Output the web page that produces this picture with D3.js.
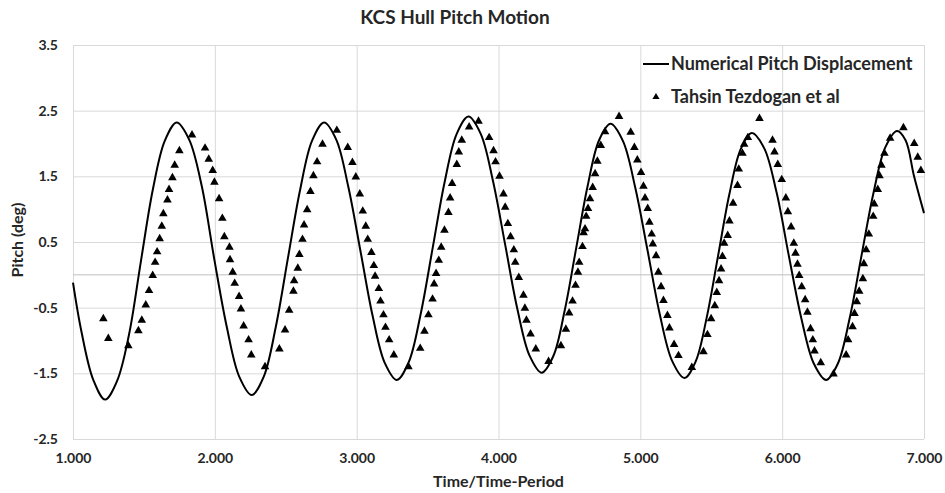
<!DOCTYPE html>
<html>
<head>
<meta charset="utf-8">
<script src="https://cdn.jsdelivr.net/npm/d3@7"></script>
<style>
  body { margin: 0; background: #fff; }
  text { font-family: Lato, "Open Sans", sans-serif; font-weight: bold; fill: #262626; }
</style>
</head>
<body>
<div id="chart"></div>
<script>
// tick values / labels
const xTicks = [1, 2, 3, 4, 5, 6, 7];
const yTicks = [-2.5, -1.5, -0.5, 0.5, 1.5, 2.5, 3.5];
const yTickLabels = ["-2.5", "-1.5", "-0.5", "0.5", "1.5", "2.5", "3.5"];

// Numerical pitch displacement
const numTime = [1.000, 1.059, 1.143, 1.226,
  1.310, 1.394, 1.479, 1.563, 1.647, 1.731,
  1.819, 1.907, 1.996, 2.084, 2.172, 2.260,
  2.345, 2.430, 2.515, 2.600, 2.685, 2.770,
  2.856, 2.941, 3.027, 3.112, 3.198, 3.283,
  3.367, 3.451, 3.536, 3.620, 3.704, 3.788,
  3.874, 3.960, 4.047, 4.133, 4.219, 4.305,
  4.386, 4.467, 4.548, 4.628, 4.709, 4.790,
  4.877, 4.964, 5.051, 5.137, 5.224, 5.311,
  5.390, 5.469, 5.549, 5.628, 5.707, 5.786,
  5.873, 5.960, 6.048, 6.135, 6.223, 6.310,
  6.393, 6.477, 6.560, 6.643, 6.727, 6.810,
  6.870, 6.930, 7.000];
const numPitch = [-0.12, -0.86, -1.60, -1.90,
  -1.62, -0.92, 0.21, 1.30, 2.04, 2.32,
  2.06, 1.36, 0.24, -0.79, -1.55, -1.83,
  -1.55, -0.79, 0.25, 1.28, 2.04, 2.32,
  2.06, 1.34, 0.36, -0.62, -1.34, -1.60,
  -1.33, -0.60, 0.41, 1.41, 2.14, 2.41,
  2.15, 1.44, 0.46, -0.52, -1.23, -1.49,
  -1.24, -0.54, 0.41, 1.35, 2.05, 2.30,
  2.04, 1.33, 0.37, -0.60, -1.31, -1.57,
  -1.32, -0.64, 0.30, 1.23, 1.91, 2.16,
  1.93, 1.26, 0.28, -0.66, -1.35, -1.60,
  -1.35, -0.65, 0.30, 1.24, 1.94, 2.19,
  2.05, 1.50, 0.94];

// Tahsin Tezdogan et al (markers)
const refTime = [1.214, 1.249, 1.390, 1.461, 1.485, 1.513, 1.536, 1.562, 1.579, 1.593, 1.611, 1.626, 1.637, 1.666, 1.677,
  1.701, 1.717, 1.750, 1.839, 1.931, 1.957, 1.985, 1.997, 2.030, 2.053, 2.067, 2.103, 2.107, 2.126, 2.140, 2.171, 2.184,
  2.203, 2.238, 2.257, 2.354, 2.455, 2.495, 2.524, 2.554, 2.559, 2.585, 2.596, 2.618, 2.629, 2.651, 2.674, 2.695, 2.721,
  2.759, 2.860, 2.937, 2.970, 2.994, 3.022, 3.043, 3.064, 3.078, 3.104, 3.121, 3.130, 3.156, 3.168, 3.189, 3.203, 3.229,
  3.262, 3.365, 3.448, 3.478, 3.506, 3.535, 3.546, 3.560, 3.579, 3.596, 3.619, 3.647, 3.659, 3.673, 3.706, 3.720, 3.741,
  3.793, 3.859, 3.934, 3.965, 3.979, 4.007, 4.035, 4.047, 4.066, 4.085, 4.108, 4.118, 4.143, 4.176, 4.186, 4.197, 4.226,
  4.263, 4.353, 4.440, 4.475, 4.498, 4.522, 4.543, 4.560, 4.569, 4.592, 4.600, 4.610, 4.618, 4.631, 4.645, 4.664, 4.681,
  4.697, 4.721, 4.751, 4.850, 4.932, 4.958, 4.979, 5.005, 5.022, 5.033, 5.052, 5.064, 5.080, 5.088, 5.111, 5.127, 5.146,
  5.163, 5.191, 5.205, 5.238, 5.269, 5.363, 5.445, 5.473, 5.499, 5.525, 5.539, 5.555, 5.569, 5.579, 5.591, 5.616, 5.628,
  5.654, 5.685, 5.694, 5.720, 5.732, 5.758, 5.840, 5.932, 5.946, 5.969, 5.997, 6.026, 6.040, 6.063, 6.082, 6.094, 6.108,
  6.120, 6.138, 6.162, 6.178, 6.200, 6.216, 6.228, 6.272, 6.362, 6.451, 6.465, 6.496, 6.510, 6.526, 6.543, 6.569, 6.576,
  6.592, 6.611, 6.642, 6.649, 6.674, 6.686, 6.700, 6.721, 6.761, 6.855, 6.931, 6.956, 6.978];
const refPitch = [-0.67, -0.97, -1.08, -0.85, -0.69, -0.46, -0.24, -0.01, 0.19, 0.35, 0.55, 0.74, 0.93, 1.14, 1.30,
  1.48, 1.67, 1.89, 2.13, 1.93, 1.76, 1.59, 1.41, 1.16, 0.86, 0.58, 0.42, 0.23, 0.04, -0.13, -0.33, -0.52,
  -0.78, -0.99, -1.22, -1.40, -1.13, -0.84, -0.54, -0.25, -0.09, 0.10, 0.31, 0.54, 0.76, 0.99, 1.27, 1.51, 1.72,
  1.99, 2.20, 1.94, 1.71, 1.49, 1.23, 0.97, 0.74, 0.54, 0.34, 0.14, -0.02, -0.21, -0.40, -0.61, -0.80, -0.99,
  -1.22, -1.40, -1.12, -0.86, -0.61, -0.37, -0.14, 0.02, 0.22, 0.42, 0.68, 0.95, 1.17, 1.39, 1.68, 1.87, 2.05,
  2.25, 2.34, 2.09, 1.89, 1.72, 1.50, 1.23, 1.03, 0.78, 0.58, 0.38, 0.19, -0.04, -0.31, -0.51, -0.69, -0.90,
  -1.13, -1.32, -1.08, -0.83, -0.58, -0.40, -0.16, 0.04, 0.19, 0.43, 0.64, 0.70, 0.89, 1.01, 1.16, 1.33, 1.54,
  1.73, 1.97, 2.18, 2.41, 2.17, 1.94, 1.75, 1.56, 1.35, 1.17, 1.01, 0.80, 0.62, 0.47, 0.29, 0.04, -0.18,
  -0.39, -0.62, -0.81, -1.06, -1.23, -1.41, -1.17, -0.91, -0.67, -0.47, -0.27, -0.09, 0.09, 0.28, 0.48, 0.60, 0.82,
  1.09, 1.36, 1.61, 1.85, 1.99, 2.09, 2.38, 2.05, 1.87, 1.68, 1.45, 1.17, 0.96, 0.73, 0.48, 0.33, 0.16,
  -0.01, -0.18, -0.38, -0.57, -0.82, -0.99, -1.16, -1.34, -1.51, -1.22, -0.99, -0.79, -0.59, -0.41, -0.25, -0.06, 0.17,
  0.38, 0.62, 0.89, 1.08, 1.30, 1.51, 1.67, 1.85, 2.08, 2.24, 2.00, 1.79, 1.59];

const width = 945, height = 493;
const margin = {top: 45, right: 21, bottom: 54, left: 73};

const svg = d3.select("#chart")
  .append("svg")
  .attr("width", width)
  .attr("height", height);

const x = d3.scaleLinear()
  .domain([1, 7])
  .range([margin.left, width - margin.right]);

const y = d3.scaleLinear()
  .domain([-2.5, 3.5])
  .range([height - margin.bottom, margin.top]);

// gridlines
svg.append("g")
  .attr("transform", `translate(${margin.left},0)`)
  .call(d3.axisLeft(y).tickValues(yTicks).tickSize(-(x.range()[1] - x.range()[0])).tickFormat(""))
  .call(g => g.select(".domain").remove())
  .call(g => g.selectAll("line").attr("stroke", "#d9d9d9").attr("stroke-width", 1));

svg.append("g")
  .attr("transform", `translate(0,${height - margin.bottom})`)
  .call(d3.axisBottom(x).tickValues(xTicks).tickSize(-(y.range()[0] - y.range()[1])).tickFormat(""))
  .call(g => g.select(".domain").remove())
  .call(g => g.selectAll("line").attr("stroke", "#d9d9d9").attr("stroke-width", 1));

// zero line
svg.append("line")
  .attr("x1", x(1)).attr("x2", x(7))
  .attr("y1", y(0)).attr("y2", y(0))
  .attr("stroke", "#bfbfbf")
  .attr("stroke-width", 1);

// y tick labels
svg.append("g")
  .attr("transform", `translate(${margin.left},0)`)
  .call(d3.axisLeft(y).tickValues(yTicks).tickSize(0).tickPadding(15)
    .tickFormat((d, i) => yTickLabels[i]))
  .call(g => g.select(".domain").remove())
  .call(g => g.selectAll("text")
    .style("font-family", "Lato, sans-serif")
    .style("font-weight", "bold")
    .style("font-size", "14px")
    .attr("fill", "#262626"));

// x tick labels
svg.append("g")
  .attr("transform", `translate(0,${height - margin.bottom})`)
  .call(d3.axisBottom(x).tickValues(xTicks).tickSize(0).tickPadding(14)
    .tickFormat(d3.format(".3f")))
  .call(g => g.select(".domain").remove())
  .call(g => g.selectAll("text")
    .style("font-family", "Lato, sans-serif")
    .style("font-weight", "bold")
    .style("font-size", "14px")
    .attr("fill", "#262626"));

// numerical line
const lineData = numTime.map((t, i) => [t, numPitch[i]]);
const line = d3.line()
  .x(d => x(d[0]))
  .y(d => y(d[1]))
  .curve(d3.curveCatmullRom.alpha(0.5));

svg.append("path")
  .datum(lineData)
  .attr("fill", "none")
  .attr("stroke", "#000")
  .attr("stroke-width", 2)
  .attr("d", line);

// reference markers
const refData = refTime.map((t, i) => [t, refPitch[i]]);
const tri = d3.symbol().type(d3.symbolTriangle).size(32);

svg.append("g")
  .selectAll("path")
  .data(refData)
  .join("path")
    .attr("d", tri)
    .attr("transform", d => `translate(${x(d[0])},${y(d[1])})`)
    .attr("fill", "#000");

// title
svg.append("text")
  .attr("x", 455)
  .attr("y", 24)
  .attr("text-anchor", "middle")
  .style("font-size", "19px")
  .text("KCS Hull Pitch Motion");

// axis titles
svg.append("text")
  .attr("x", x(4))
  .attr("y", 487)
  .attr("text-anchor", "middle")
  .style("font-size", "16px")
  .text("Time/Time-Period");

svg.append("text")
  .attr("transform", `translate(23,${y(0.5) - 2}) rotate(-90)`)
  .attr("text-anchor", "middle")
  .style("font-size", "16px")
  .text("Pitch (deg)");

// legend
const legend = svg.append("g");
legend.append("line")
  .attr("x1", 643).attr("x2", 669)
  .attr("y1", 64).attr("y2", 64)
  .attr("stroke", "#000")
  .attr("stroke-width", 2);
legend.append("text")
  .attr("x", 671)
  .attr("y", 70)
  .style("font-size", "18px")
  .text("Numerical Pitch Displacement");
legend.append("path")
  .attr("d", d3.symbol().type(d3.symbolTriangle).size(22))
  .attr("transform", "translate(656,97)")
  .attr("fill", "#000");
legend.append("text")
  .attr("x", 671)
  .attr("y", 103)
  .style("font-size", "18px")
  .text("Tahsin Tezdogan et al");
</script>
</body>
</html>
